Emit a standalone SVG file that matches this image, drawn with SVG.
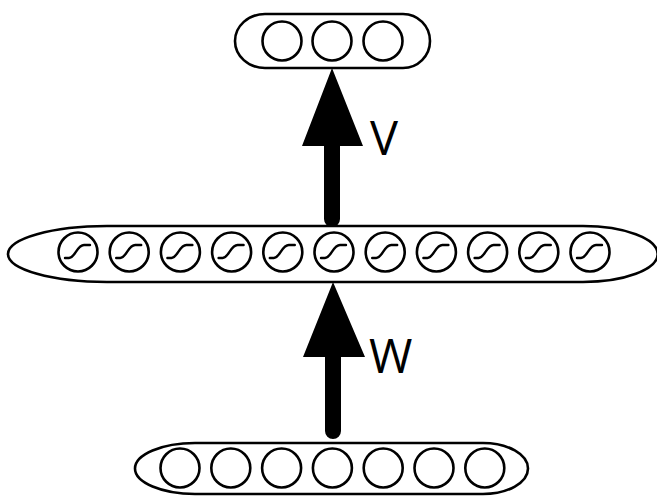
<svg xmlns="http://www.w3.org/2000/svg" width="657" height="496" viewBox="0 0 657 496" xmlns:xlink="http://www.w3.org/1999/xlink">
<style>
.layer{fill:none;stroke:#000;stroke-width:2.6}
.unit{fill:none;stroke:#000;stroke-width:2.6}
.sig{fill:none;stroke:#000;stroke-width:2.4;stroke-linecap:round}
.arrow{fill:#000;stroke:none}
.lbl{font-family:"Open Sans","Liberation Sans",sans-serif;font-size:47px;fill:#000}
</style>
<defs>
<g id="neuron"><circle class="unit" r="19.5"/></g>
<g id="sneuron"><circle class="unit" r="19.5"/><path class="sig" d="M-13,6 L-9,6 C-3,6 -1,-7 6,-7 L12,-7"/></g>
</defs>
<g id="output">
<path class="layer" d="M265,14 L403,14 A27,27 0 0 1 403,68 L265,68 A30,27 0 0 1 265,14 Z"/>
<use href="#neuron" x="282" y="41"/>
<use href="#neuron" x="332" y="41"/>
<use href="#neuron" x="383" y="41"/>
</g>
<g id="hidden">
<path class="layer" d="M107,226 L583,226 A72,27 0 0 1 583,282 L107,282 A99,28 0 0 1 107,226 Z"/>
<use href="#sneuron" x="78" y="252"/>
<use href="#sneuron" x="129.2" y="252"/>
<use href="#sneuron" x="180.4" y="252"/>
<use href="#sneuron" x="231.6" y="252"/>
<use href="#sneuron" x="282.8" y="252"/>
<use href="#sneuron" x="334" y="252"/>
<use href="#sneuron" x="385.2" y="252"/>
<use href="#sneuron" x="436.4" y="252"/>
<use href="#sneuron" x="487.6" y="252"/>
<use href="#sneuron" x="538.8" y="252"/>
<use href="#sneuron" x="590" y="252"/>
</g>
<g id="input">
<path class="layer" d="M195,443 L483,443 A45,25.5 0 0 1 483,494 L195,494 A60,25.5 0 0 1 195,443 Z"/>
<use href="#neuron" x="180" y="468"/>
<use href="#neuron" x="230.8" y="468"/>
<use href="#neuron" x="281.6" y="468"/>
<use href="#neuron" x="332.4" y="468"/>
<use href="#neuron" x="383.2" y="468"/>
<use href="#neuron" x="434" y="468"/>
<use href="#neuron" x="484.8" y="468"/>
</g>
<g id="connectors">
<path class="arrow" d="M332,68 L363,146 L340,146 L340,219 A8,8 0 0 1 324,219 L324,146 L302,146 Z"/>
<path class="arrow" d="M333,282 L365,357 L341,357 L341,431 A8,8 0 0 1 325,431 L325,357 L303,357 Z"/>
<text class="lbl" x="370" y="155">V</text>
<text class="lbl" x="369" y="373">W</text>
</g>
</svg>
